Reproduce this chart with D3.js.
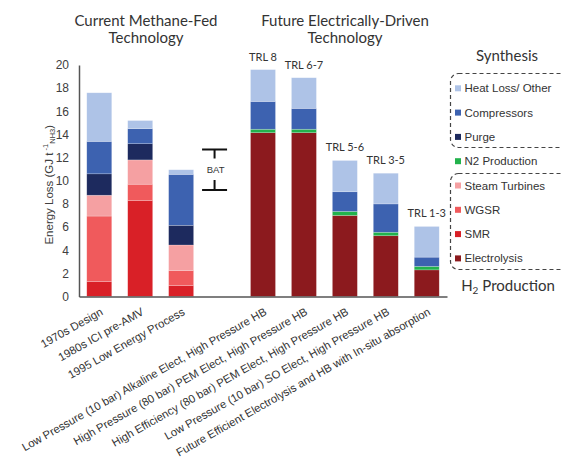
<!DOCTYPE html>
<html>
<head>
<meta charset="utf-8">
<script src="https://cdn.jsdelivr.net/npm/d3@7"></script>
<style>
  html, body { margin: 0; padding: 0; background: #fff; }
  svg { display: block; }
  text { font-family: "Liberation Sans", Arial, sans-serif; fill: #333; }
  .title { font-family: "Lato", "Open Sans", sans-serif; fill: #333; }
</style>
</head>
<body>
<svg id="chart" width="562" height="461"></svg>
<script>
// Process scenarios (one blank slot separates current and future technology)
const categories = [
  "1970s Design",
  "1980s ICI pre-AMV",
  "1995 Low Energy Process",
  "gap",
  "Low Pressure (10 bar) Alkaline Elect, High Pressure HB",
  "High Pressure (80 bar) PEM Elect, High Pressure HB",
  "High Efficiency (80 bar) PEM Elect, High Pressure HB",
  "Low Pressure (10 bar) SO Elect, High Pressure HB",
  "Future Efficient Electrolysis and HB with In-situ absorption"
];
const scenarios = categories.filter(c => c !== "gap");

// Energy loss per stage, GJ per tonne NH3 (stacked bottom to top)
const electrolysis  = [0, 0, 0, 14.15, 14.15, 7.0, 5.25, 2.3];
const smr           = [1.3, 8.3, 0.95, 0, 0, 0, 0, 0];
const wgsr          = [5.65, 1.4, 1.3, 0, 0, 0, 0, 0];
const steamTurbines = [1.8, 2.1, 2.2, 0, 0, 0, 0, 0];
const n2Production  = [0, 0, 0, 0.3, 0.3, 0.35, 0.3, 0.3];
const purge         = [1.85, 1.4, 1.7, 0, 0, 0, 0, 0];
const compressors   = [2.8, 1.3, 4.4, 2.4, 1.8, 1.7, 2.45, 0.8];
const heatLoss      = [4.2, 0.7, 0.4, 2.75, 2.65, 2.7, 2.65, 2.65];

const trlLabels = ["", "", "", "TRL 8", "TRL 6-7", "TRL 5-6", "TRL 3-5", "TRL 1-3"];
const batRange = [9.2, 12.7];
const yTicks = [0, 2, 4, 6, 8, 10, 12, 14, 16, 18, 20];

const seriesDefs = [
  { key: "Electrolysis",     values: electrolysis,  color: "#8c1a1e" },
  { key: "SMR",              values: smr,           color: "#d92027" },
  { key: "WGSR",             values: wgsr,          color: "#f05a5c" },
  { key: "Steam Turbines",   values: steamTurbines, color: "#f5a0a2" },
  { key: "N2 Production",    values: n2Production,  color: "#22b24c" },
  { key: "Purge",            values: purge,         color: "#1d2a5e" },
  { key: "Compressors",      values: compressors,   color: "#3d62b0" },
  { key: "Heat Loss/ Other", values: heatLoss,      color: "#aec3e7" }
];

const rows = scenarios.map((name, i) => {
  const r = { name };
  seriesDefs.forEach(s => { r[s.key] = s.values[i]; });
  return r;
});

const svg = d3.select("#chart");

const x = d3.scaleBand()
  .domain(categories)
  .range([79, 447])
  .paddingInner(0.39)
  .paddingOuter(0.19);

const y = d3.scaleLinear().domain([0, 20]).range([296.5, 65]);

const stack = d3.stack().keys(seriesDefs.map(s => s.key));
const stacked = stack(rows);
const colorOf = Object.fromEntries(seriesDefs.map(s => [s.key, s.color]));

// Stacked bars
svg.append("g").selectAll("g")
  .data(stacked)
  .join("g")
  .attr("fill", d => colorOf[d.key])
  .selectAll("rect")
  .data(d => d.filter(p => p[1] - p[0] > 0))
  .join("rect")
  .attr("x", d => x(d.data.name))
  .attr("width", x.bandwidth())
  .attr("y", d => y(d[1]))
  .attr("height", d => y(d[0]) - y(d[1]))
  .attr("stroke", "#ffffff")
  .attr("stroke-opacity", 0.35)
  .attr("stroke-width", 0.6);

// Y axis
const yAxis = d3.axisLeft(y).tickValues(yTicks).tickSize(0).tickPadding(10);
const gy = svg.append("g").attr("transform", "translate(79,0)").call(yAxis);
gy.select(".domain").attr("stroke", "#555").attr("stroke-width", 1.5);
gy.selectAll(".tick text").style("font-size", "12px").style("fill", "#404040");

// X axis
const xAxis = d3.axisBottom(x).tickSize(0).tickFormat(d => d === "gap" ? "" : d);
const gx = svg.append("g").attr("transform", "translate(0,296.5)").call(xAxis);
gx.select(".domain").attr("stroke", "#555").attr("stroke-width", 1.5);
gx.selectAll(".tick text")
  .style("font-size", "11.3px")
  .style("fill", "#333")
  .attr("text-anchor", "end")
  .attr("dy", 0)
  .attr("transform", "translate(3,15) rotate(-29.5)");

// Y-axis title
const yt = svg.append("text")
  .attr("transform", `translate(53,${(y(0) + y(20)) / 2 + 4}) rotate(-90)`)
  .attr("text-anchor", "middle")
  .style("font-size", "11.5px")
  .style("fill", "#404040");
yt.append("tspan").text("Energy Loss (GJ t");
yt.append("tspan").style("font-size", "7.5px").attr("dy", -5).text(" -1");
yt.append("tspan").style("font-size", "7.5px").attr("dy", 7).text("NH3");
yt.append("tspan").attr("dy", -2).text(")");

// TRL labels above electrically-driven bars
svg.append("g").selectAll("text")
  .data(rows.map((r, i) => ({ r, label: trlLabels[i] })).filter(d => d.label))
  .join("text")
  .attr("class", "title")
  .style("font-size", "11px")
  .attr("text-anchor", "middle")
  .attr("x", d => x(d.r.name) + x.bandwidth() / 2)
  .attr("y", d => y(d3.sum(seriesDefs, s => d.r[s.key])) - 9)
  .text(d => d.label);

// Best available technology bracket
const bx = x("gap") + x.bandwidth() / 2 - 7.5;
const bw = 12.5;
const bat = svg.append("g").attr("stroke", "#111").attr("stroke-width", 2).attr("fill", "none");
bat.append("line").attr("x1", bx - bw).attr("x2", bx + bw).attr("y1", y(batRange[1])).attr("y2", y(batRange[1]));
bat.append("line").attr("x1", bx).attr("x2", bx).attr("y1", y(batRange[1])).attr("y2", y(batRange[1]) + 9);
bat.append("line").attr("x1", bx - bw).attr("x2", bx + bw).attr("y1", y(batRange[0])).attr("y2", y(batRange[0]));
bat.append("line").attr("x1", bx).attr("x2", bx).attr("y1", y(batRange[0])).attr("y2", y(batRange[0]) - 10);
svg.append("text")
  .style("font-size", "9.5px")
  .attr("text-anchor", "middle")
  .attr("x", bx + 1)
  .attr("y", (y(batRange[0]) + y(batRange[1])) / 2 + 3)
  .text("BAT");

// Group titles
const groupTitles = [
  { lines: ["Current Methane-Fed", "Technology"], cx: 146 },
  { lines: ["Future Electrically-Driven", "Technology"], cx: 345 }
];
groupTitles.forEach(g => {
  g.lines.forEach((l, i) => {
    svg.append("text").attr("class", "title")
      .style("font-size", "15px")
      .attr("text-anchor", "middle")
      .attr("x", g.cx).attr("y", 26 + i * 17)
      .text(l);
  });
});

// Legend
const legendOrder = ["Heat Loss/ Other", "Compressors", "Purge", "N2 Production",
                     "Steam Turbines", "WGSR", "SMR", "Electrolysis"];
const legend = svg.append("g");
legendOrder.forEach((k, i) => {
  const cy = 88.3 + i * 24.3;
  legend.append("rect").attr("x", 455).attr("y", cy - 3).attr("width", 6).attr("height", 6)
    .attr("fill", colorOf[k]);
  legend.append("text").attr("x", 464.5).attr("y", cy + 4)
    .style("font-size", "11.5px").text(k);
});
const boxes = [[73.5, 147.5], [173.5, 269.5]];
boxes.forEach(([t, b]) => {
  legend.append("rect").attr("x", 450.5).attr("y", t).attr("width", 130).attr("height", b - t)
    .attr("rx", 8).attr("fill", "none").attr("stroke", "#444").attr("stroke-width", 1.2)
    .attr("stroke-dasharray", "4,3");
});
svg.append("text").attr("class", "title").style("font-size", "15px").attr("text-anchor", "middle")
  .attr("x", 507).attr("y", 61).text("Synthesis");
const h2 = svg.append("text").attr("class", "title").style("font-size", "15px").attr("text-anchor", "middle")
  .attr("x", 508).attr("y", 291);
h2.append("tspan").text("H");
h2.append("tspan").style("font-size", "10px").attr("dy", 3).text("2");
h2.append("tspan").attr("dy", -3).text(" Production");
</script>
</body>
</html>
